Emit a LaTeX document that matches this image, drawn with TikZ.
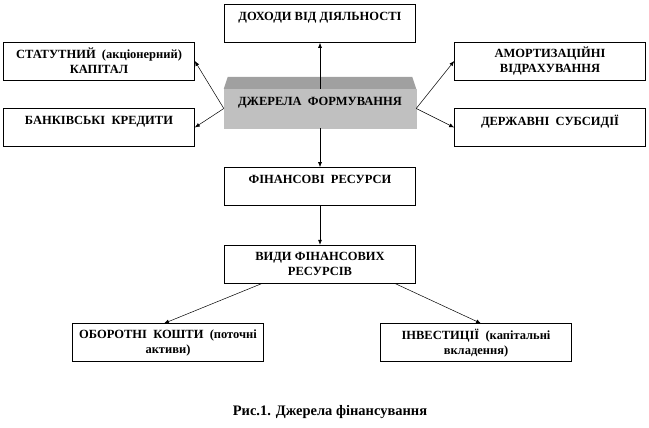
\documentclass[tikz,border=0pt]{standalone}
\usepackage{fontspec}
\setmainfont{Liberation Serif}
\usepackage{xcolor}
\usepackage{tikz}
\usetikzlibrary{arrows.meta,positioning,calc}
\definecolor{FaceGray}{HTML}{C0C0C0}
\definecolor{TopGray}{HTML}{A0A0A0}

\begin{document}
\begin{tikzpicture}[node distance=39pt and 29pt,>={Latex[length=5pt,width=4pt]},
 blok/.style={draw,line width=.6pt,fill=white,minimum width=191pt,minimum height=38pt,
              inner sep=1pt,align=center,font=\fontsize{12.5}{15}\selectfont\bfseries},
 dzherelo/.style={draw=FaceGray,fill=FaceGray,minimum width=192pt,minimum height=39pt,
              inner sep=1pt,align=center,font=\fontsize{12.5}{15}\selectfont\bfseries},
 pidpys/.style={font=\fontsize{14.5}{17}\selectfont\bfseries}]
\useasboundingbox (0,0) rectangle (649pt,-428pt);
\node[dzherelo] (src) at (320pt,-108.5pt) {ДЖЕРЕЛА\ \ ФОРМУВАННЯ\\~};
\fill[TopGray] (src.north west) -- ++(4pt,12pt) -- ([shift={(-4pt,12pt)}]src.north east)
  -- (src.north east) -- cycle;
\node[blok,above=46pt of src] (inc) {ДОХОДИ ВІД ДІЯЛЬНОСТІ\\~};
\node[blok,left=29pt of src,yshift=47.5pt] (cap) {СТАТУТНИЙ\ \ (акціонерний)\\КАПІТАЛ};
\node[blok,left=29pt of src,yshift=-19pt] (bank) {БАНКІВСЬКІ\ \ КРЕДИТИ\\~};
\node[blok,right=38pt of src,yshift=47.5pt] (amort) {АМОРТИЗАЦІЙНІ\\ВІДРАХУВАННЯ};
\node[blok,right=38pt of src,yshift=-19pt] (subs) {ДЕРЖАВНІ\ \ СУБСИДІЇ\\~};
\node[blok,below=of src] (fin) {ФІНАНСОВІ\ \ РЕСУРСИ\\~};
\node[blok,below=of fin] (kinds) {ВИДИ ФІНАНСОВИХ\\РЕСУРСІВ};
\node[blok,below=40pt of kinds,xshift=-152pt] (curr) {ОБОРОТНІ\ \ КОШТИ\ \ (поточні\\активи)};
\node[blok,below=40pt of kinds,xshift=156pt] (inv) {ІНВЕСТИЦІЇ\ \ (капітальні\\вкладення)};
\node[pidpys] (cap1) at (330pt,-412pt) {Рис.1. Джерела фінансування};
\draw[->,line width=.6pt] (src.north)--(inc.south);
\draw[->,line width=.5pt] (src.west)--(cap.east);
\draw[->,line width=.5pt] (src.west)--(bank.east);
\draw[->,line width=.5pt] (src.east)--(amort.west);
\draw[->,line width=.5pt] (src.east)--(subs.west);
\draw[->,line width=.6pt] (src.south)--(fin.north);
\draw[->,line width=.6pt] (fin.south)--(kinds.north);
\draw[->,line width=.5pt] ([xshift=38pt]kinds.south west)--([xshift=-4pt]curr.north);
\draw[->,line width=.5pt] ([xshift=-21pt]kinds.south east)--([xshift=5pt]inv.north);
\end{tikzpicture}
\end{document}
